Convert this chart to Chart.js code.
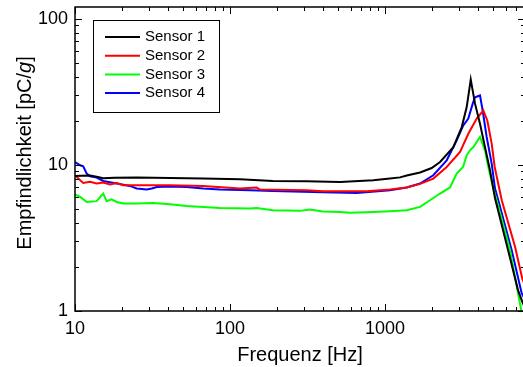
<!DOCTYPE html>
<html>
<head>
<meta charset="utf-8">
<script src="https://cdn.jsdelivr.net/npm/chart.js@4.4.1/dist/chart.umd.min.js"></script>
<style>
html,body{margin:0;padding:0;background:#fff;overflow:hidden;}
#wrap{width:523px;height:367px;overflow:hidden;}
</style>
</head>
<body>
<div id="wrap"><canvas id="c" width="525" height="367"></canvas></div>
<script>
// ---- data (frequency in Hz, sensitivity in pC/g) ----
const seriesNames = ["Sensor 1", "Sensor 2", "Sensor 3", "Sensor 4"];
const seriesColors = ["#000000", "#ff0000", "#00ff00", "#0000ff"];

const freq1 = [10, 11, 12.5, 13.8, 15.2, 18, 25, 41, 67, 116, 189, 312, 513, 841, 1077, 1250, 1380, 1683, 2000, 2265, 2760, 3126, 3365, 3573, 3807, 4100, 4416, 4755, 5125, 6220, 7210, 7700, 8000];
const sensor1 = [8.38, 8.4, 8.45, 8.3, 8.1, 8.15, 8.18, 8.13, 8.05, 7.95, 7.75, 7.72, 7.63, 7.84, 8.05, 8.2, 8.45, 8.85, 9.5, 10.45, 13.2, 18.1, 24.8, 38.3, 26.2, 19.1, 13.2, 9.17, 5.9, 2.61, 1.39, 1.15, 1.05];

const freq2 = [10, 11.3, 12.5, 13.8, 15.2, 16.8, 18.6, 20.5, 25, 41, 67, 116, 148.6, 156, 312, 398, 762, 1077, 1380, 1683, 2049, 2500, 3048, 3446, 3905, 4306, 4570, 4877, 5100, 5663, 6900, 7700, 8000];
const sensor2 = [8.45, 7.51, 7.65, 7.44, 7.56, 7.33, 7.51, 7.25, 7.25, 7.25, 7.15, 6.88, 6.99, 6.77, 6.70, 6.59, 6.59, 6.77, 6.99, 7.4, 8.05, 9.66, 12.23, 16.3, 20.7, 23.5, 20.1, 13.95, 9.66, 5.72, 2.75, 1.65, 1.5];

const freq3 = [10, 10.8, 11.9, 13.8, 15.2, 16.0, 17.2, 18.6, 20.5, 25, 32, 41, 52.6, 67.2, 86.2, 134.6, 148.6, 189, 283, 328, 398, 513, 594, 841, 1077, 1380, 1683, 1950, 2265, 2625, 2900, 3185, 3365, 3533, 3715, 4100, 4416, 4640, 4996, 5250, 6400, 7620];
const sensor3 = [6.26, 6.03, 5.57, 5.64, 6.36, 5.64, 5.81, 5.57, 5.43, 5.43, 5.47, 5.37, 5.23, 5.15, 5.07, 5.02, 5.07, 4.89, 4.84, 4.94, 4.80, 4.76, 4.69, 4.76, 4.82, 4.89, 5.15, 5.72, 6.36, 7.0, 8.7, 9.66, 11.6, 12.56, 13.23, 15.5, 12.56, 9.66, 6.88, 5.72, 2.61, 0.97];

const freq4 = [10, 10.8, 11.3, 11.9, 12.5, 13.8, 15.2, 18.6, 22.6, 25, 29, 31.3, 33.7, 41, 52.6, 67.2, 86.2, 134.6, 189, 398, 657, 1077, 1380, 1683, 2049, 2500, 2900, 3200, 3446, 3680, 3807, 4100, 4266, 4527, 4877, 5125, 5380, 6560, 7620, 8000];
const sensor4 = [10.45, 9.92, 9.77, 8.71, 8.35, 8.18, 7.75, 7.44, 7.17, 6.88, 6.77, 6.88, 7.05, 7.1, 7.05, 6.88, 6.77, 6.70, 6.62, 6.49, 6.42, 6.70, 6.99, 7.44, 8.48, 10.73, 14.7, 18.6, 20.7, 26.2, 29.0, 29.8, 23.5, 15.5, 10.19, 6.88, 5.72, 2.61, 1.32, 1.2];

const xRange = [10, 8000];
const yRange = [1, 120];
const xTitle = "Frequenz [Hz]";
const yTitleParts = ["Empfindlichkeit [pC/", "g", "]"];

// ---- build chart ----
const FONT = "'Liberation Sans', Arial, Helvetica, sans-serif";
Chart.defaults.font.family = FONT;
Chart.defaults.color = "#000";

const freqs = [freq1, freq2, freq3, freq4];
const vals = [sensor1, sensor2, sensor3, sensor4];
const datasets = seriesNames.map((name, k) => ({
  label: name,
  data: freqs[k].map((f, i) => ({x: f, y: vals[k][i]})),
  borderColor: seriesColors[k],
  backgroundColor: seriesColors[k],
  borderWidth: 2,
  pointRadius: 0,
  tension: 0,
  fill: false
}));

function isPow10(v) {
  const l = Math.log10(v);
  return Math.abs(l - Math.round(l)) < 1e-9;
}
function isNice(v) {
  const p = Math.pow(10, Math.floor(Math.log10(v) + 1e-9));
  const s = v / p;
  return Math.abs(s - Math.round(s)) < 1e-6;
}

const framePlugin = {
  id: "frame",
  afterDraw(chart) {
    const ctx = chart.ctx;
    const a = chart.chartArea;
    const xs = chart.scales.x, ys = chart.scales.y;
    ctx.save();
    ctx.strokeStyle = "#000";
    ctx.lineWidth = 1;
    xs.ticks.forEach(t => {
      if (!isNice(t.value)) return;
      const px = Math.round(xs.getPixelForValue(t.value)) + 0.5;
      const len = isPow10(t.value) ? 7 : 4;
      ctx.beginPath();
      ctx.moveTo(px, a.bottom); ctx.lineTo(px, a.bottom - len);
      ctx.moveTo(px, a.top); ctx.lineTo(px, a.top + len);
      ctx.stroke();
    });
    ys.ticks.forEach(t => {
      if (!isNice(t.value)) return;
      const py = Math.round(ys.getPixelForValue(t.value)) + 0.5;
      const len = isPow10(t.value) ? 7 : 4;
      ctx.beginPath();
      ctx.moveTo(a.left, py); ctx.lineTo(a.left + len, py);
      ctx.moveTo(a.right, py); ctx.lineTo(a.right - len, py);
      ctx.stroke();
    });
    ctx.lineWidth = 1.5;
    ctx.strokeRect(a.left, a.top, a.right - a.left, a.bottom - a.top);

    // legend box
    const lx = 93, ly = 20, lw = 126, lh = 92;
    ctx.fillStyle = "#fff";
    ctx.fillRect(lx, ly, lw, lh);
    ctx.lineWidth = 1;
    ctx.strokeStyle = "#000";
    ctx.strokeRect(lx + 0.5, ly + 0.5, lw, lh);
    ctx.font = "15px " + FONT;
    ctx.textBaseline = "middle";
    ctx.textAlign = "left";
    chart.data.datasets.forEach((ds, i) => {
      const yy = 37 + i * 18.7;
      ctx.strokeStyle = ds.borderColor;
      ctx.lineWidth = 2;
      ctx.beginPath();
      ctx.moveTo(105, yy); ctx.lineTo(140, yy);
      ctx.stroke();
      ctx.fillStyle = "#000";
      ctx.fillText(ds.label, 145, yy);
    });

    // y-axis title with italic g
    const fN = "20px " + FONT, fI = "italic 20px " + FONT;
    ctx.font = fN; const w0 = ctx.measureText(yTitleParts[0]).width;
    ctx.font = fI; const w1 = ctx.measureText(yTitleParts[1]).width;
    ctx.font = fN; const w2 = ctx.measureText(yTitleParts[2]).width;
    const total = w0 + w1 + w2;
    ctx.translate(31, 153);
    ctx.rotate(-Math.PI / 2);
    ctx.fillStyle = "#000";
    ctx.textBaseline = "alphabetic";
    let xx = -total / 2;
    ctx.font = fN; ctx.fillText(yTitleParts[0], xx, 0); xx += w0;
    ctx.font = fI; ctx.fillText(yTitleParts[1], xx, 0); xx += w1;
    ctx.font = fN; ctx.fillText(yTitleParts[2], xx, 0);
    ctx.restore();
  }
};

new Chart(document.getElementById("c"), {
  type: "line",
  data: {datasets},
  options: {
    responsive: false,
    animation: false,
    layout: {padding: {top: 7, left: 0, right: 0, bottom: 0}},
    plugins: {legend: {display: false}, tooltip: {enabled: false}},
    scales: {
      x: {
        type: "logarithmic",
        min: xRange[0], max: xRange[1],
        grid: {display: false, drawTicks: false},
        border: {display: false},
        ticks: {
          autoSkip: false, maxRotation: 0, padding: 7,
          font: {size: 18},
          callback: v => isPow10(v) ? String(Math.round(v)) : ""
        },
        title: {display: true, text: xTitle, font: {size: 20}, padding: {top: 0, bottom: 0}},
        afterFit: s => { s.height = 56; s.paddingLeft = 0; s.paddingRight = 0; }
      },
      y: {
        type: "logarithmic",
        min: yRange[0], max: yRange[1],
        grid: {display: false, drawTicks: false},
        border: {display: false},
        ticks: {
          autoSkip: false, padding: 7,
          font: {size: 18},
          callback: v => isPow10(v) ? String(Math.round(v)) : ""
        },
        afterFit: s => { s.width = 75; s.paddingTop = 0; s.paddingBottom = 0; }
      }
    }
  },
  plugins: [framePlugin]
});
</script>
</body>
</html>
